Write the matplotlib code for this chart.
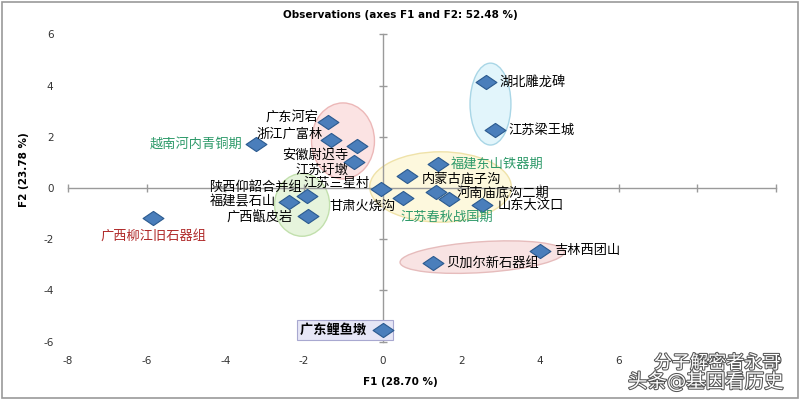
import matplotlib
matplotlib.use("Agg")
import matplotlib.pyplot as plt
from matplotlib.patches import Ellipse
from matplotlib.path import Path
import matplotlib.patheffects as pe

plt.rcParams['font.family'] = ['DejaVu Sans', 'Noto Sans CJK SC']
plt.rcParams['axes.unicode_minus'] = False

# PCA scores
sites = ["湖北雕龙碑", "江苏梁王城", "广东河宕", "浙江广富林", "安徽尉迟寺", "江苏圩墩",
         "越南河内青铜期", "江苏三星村", "甘肃火烧沟", "陕西仰韶合并组", "福建昙石山",
         "广西甑皮岩", "广西柳江旧石器组", "广东鲤鱼墩", "内蒙古庙子沟", "福建东山铁器期",
         "河南庙底沟二期", "江苏春秋战国期", "山东大汶口", "吉林西团山", "贝加尔新石器组"]
f1 = [2.63, 2.86, -1.39, -1.31, -0.65, -0.73, -3.22, -0.04, 0.52, -1.92, -2.38,
      -1.90, -5.84, 0.01, 0.62, 1.41, 1.35, 1.68, 2.53, 4.01, 1.28]
f2 = [4.14, 2.27, 2.58, 1.88, 1.64, 1.02, 1.72, -0.04, -0.39, -0.31, -0.55,
      -1.09, -1.17, -5.55, 0.47, 0.94, -0.16, -0.43, -0.66, -2.46, -2.93]
x_ticks = [-8, -6, -4, -2, 0, 2, 4, 6, 8, 10]
y_ticks = [-6, -4, -2, 0, 2, 4, 6]

# label placement (pixel offsets), alignment and colour
label_pos = [(13, 0, 'left'), (13, 0, 'left'), (-10, 5, 'right'), (-8, 6, 'right'),
             (-9, -9, 'right'), (-6, -8, 'right'), (-14, 0, 'right'), (-11, 6, 'right'),
             (-8, -8, 'right'), (-5, 9, 'right'), (-13, 0, 'right'), (-15, -2, 'right'),
             (0, -18, 'center'), (-13, 0, 'right'), (15, -3, 'left'), (13, 0, 'left'),
             (21, -1, 'left'), (-2, -18, 'center'), (15, 0, 'left'), (14, 0, 'left'),
             (13, 0, 'left')]
green = '#2e9a6a'
red = '#b02a2a'
label_col = {"越南河内青铜期": green, "福建东山铁器期": green, "江苏春秋战国期": green,
             "广西柳江旧石器组": red}

# group ellipses: centre, width, height, angle, face, edge
groups = [((-1.01, 1.84), 1.6, 2.97, 0, '#fbe3e3', '#ecb8b8'),
          ((2.74, 3.28), 1.04, 3.2, 0, '#e2f5fb', '#a9d6e6'),
          ((-2.05, -0.66), 1.4, 2.45, 0, '#e6f4dc', '#c2e0ad'),
          ((1.47, 0.04), 3.6, 2.75, 0, '#fdf8dd', '#efe2a9'),
          ((2.53, -2.7), 4.2, 1.2, 6, '#f8e3e3', '#e6bcbc')]

fig = plt.figure(figsize=(8, 4), dpi=100)
fig.patch.set_facecolor('white')
ax = fig.add_axes([56.3 / 800, 0.1205, 731.5 / 800, 0.8125])
ax.set_xlim(-8.3, 10.3)
ax.set_ylim(-6.4, 6.3)

for (c, w, h, a, fc, ec) in groups:
    ax.add_patch(Ellipse(c, w, h, angle=a, facecolor=fc, edgecolor=ec, lw=1.0, zorder=1))

# axes through the origin with small tick marks
axis_col = '#9a9a9a'
ax.plot([x_ticks[0], x_ticks[-1]], [0, 0], color=axis_col, lw=1, zorder=2)
ax.plot([0, 0], [y_ticks[0], y_ticks[-1]], color=axis_col, lw=1, zorder=2)
ax.plot(x_ticks, [0] * len(x_ticks), ls='none', marker='|', ms=6, color=axis_col, zorder=2)
ax.plot([0] * len(y_ticks), y_ticks, ls='none', marker='_', ms=6, color=axis_col, zorder=2)

diamond = Path([(-1, 0), (0, 0.68), (1, 0), (0, -0.68), (-1, 0)],
               [Path.MOVETO, Path.LINETO, Path.LINETO, Path.LINETO, Path.CLOSEPOLY])
ax.plot(f1, f2, ls='none', marker=diamond, ms=15, mfc='#4a7ebb', mec='#2b5a8f',
        mew=0.8, zorder=4)

for s, x, y, (dx, dy, ha) in zip(sites, f1, f2, label_pos):
    if s == "广东鲤鱼墩":
        ax.annotate(s + "     ", (x, y), xytext=(-83, 0), textcoords='offset pixels',
                    ha='left', va='center', fontsize=9.5, fontweight='bold',
                    bbox=dict(boxstyle='square,pad=0.25', fc='#e6e6f6', ec='#a8a8d0', lw=0.8),
                    zorder=3)
        continue
    ax.annotate(s, (x, y), xytext=(dx, dy), textcoords='offset pixels',
                ha=ha, va='center', fontsize=9.5, color=label_col.get(s, 'black'), zorder=5)

ax.set_xticks(x_ticks)
ax.set_yticks(y_ticks)
ax.tick_params(length=0, labelsize=7.5, labelcolor='#333333')
ax.tick_params(axis='x', pad=3)
ax.tick_params(axis='y', pad=2)
for sp in ax.spines.values():
    sp.set_visible(False)

fig.text(0.5, 0.962, "Observations (axes F1 and F2: 52.48 %)", ha='center', va='center',
         fontsize=7.5, fontweight='bold')
fig.text(0.5, 0.045, "F1 (28.70 %)", ha='center', va='center', fontsize=7.5, fontweight='bold')
fig.text(0.03, 0.575, "F2 (23.78 %)", ha='center', va='center', rotation=90,
         fontsize=7.5, fontweight='bold')

# watermark
wm = [pe.withStroke(linewidth=1.5, foreground='#555555')]
fig.text(0.975, 0.092, "分子解密者永哥", ha='right', va='center', fontsize=13,
         color='white', path_effects=wm)
fig.text(0.98, 0.045, "头条@基因看历史", ha='right', va='center', fontsize=14,
         color='white', path_effects=wm)

# outer frame
fig.add_artist(plt.Rectangle((0.003, 0.005), 0.994, 0.99, transform=fig.transFigure,
                             fill=False, ec='#999999', lw=1.2))

fig.savefig("out.png", dpi=100)
